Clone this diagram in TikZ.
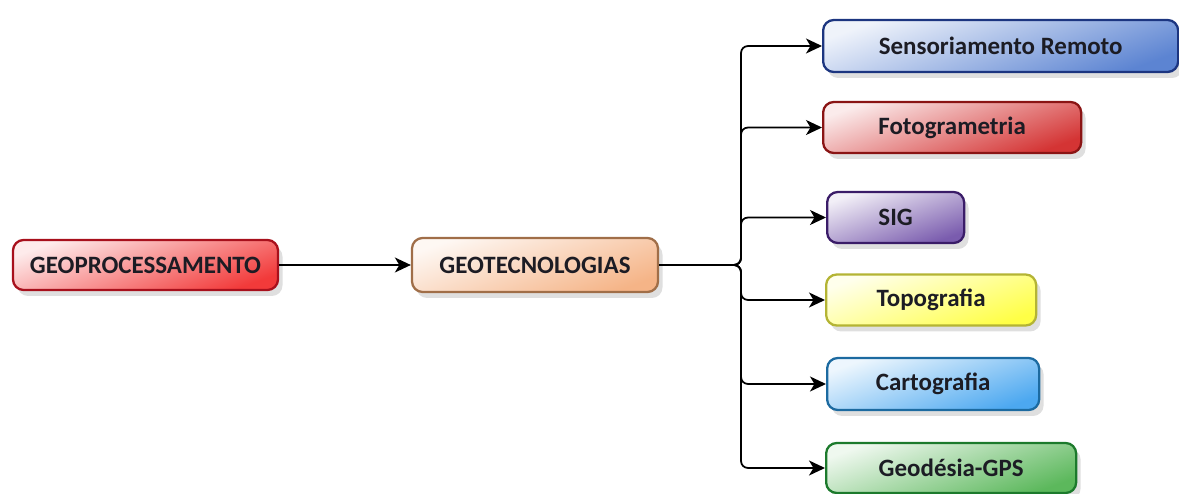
\documentclass[tikz,border=0pt]{standalone}
\usepackage{fontspec}
\setmainfont{Carlito}
\usetikzlibrary{arrows.meta,shadows}

\definecolor{geoline}{HTML}{A8101C}
\definecolor{geofill}{HTML}{F23A3A}
\definecolor{tecline}{HTML}{A06E48}
\definecolor{tecfill}{HTML}{F5B487}
\definecolor{srline}{HTML}{1C3580}
\definecolor{srfill}{HTML}{5C84D2}
\definecolor{fotoline}{HTML}{8A1414}
\definecolor{fotofill}{HTML}{D43434}
\definecolor{sigline}{HTML}{3A1C68}
\definecolor{sigfill}{HTML}{7A5CAE}
\definecolor{topoline}{HTML}{B4B434}
\definecolor{topofill}{HTML}{FFFF46}
\definecolor{cartoline}{HTML}{1C6AA0}
\definecolor{cartofill}{HTML}{4CA8F0}
\definecolor{gpsline}{HTML}{1C7A2C}
\definecolor{gpsfill}{HTML}{5CB85C}
\definecolor{txt}{HTML}{1C1C24}

\tikzset{
  box/.style 2 args={draw=#1, line width=1.3pt, rounded corners=6pt,
    top color=#2!10, bottom color=#2, shading angle=20,
    drop shadow={opacity=.25, shadow xshift=.9mm, shadow yshift=-1.2mm},
    text=txt, font=\bfseries\fontsize{14.2}{16}\selectfont, inner sep=0pt},
  link/.style={draw=black, line width=1pt, rounded corners=4pt,
    -{Stealth[length=3.2mm,width=3mm,inset=.9mm]}}
}

\begin{document}
\begin{tikzpicture}
        \useasboundingbox (0,0) rectangle (23.58,-9.88);

         % main chain
        \node[box={geoline}{geofill}, minimum width=5.3cm, minimum height=1cm] (geo) at (2.91,-5.3) {GEOPROCESSAMENTO};
        \node[box={tecline}{tecfill}, minimum width=4.92cm, minimum height=1.08cm] (tec) at (10.7,-5.3) {GEOTECNOLOGIAS};

         % branches
        \node[box={srline}{srfill}, anchor=west, minimum width=7.1cm, minimum height=1.04cm] (sr) at (16.44,-0.92) {Sensoriamento Remoto};
        \node[box={fotoline}{fotofill}, anchor=west, minimum width=5.16cm, minimum height=1.02cm] (foto) at (16.44,-2.55) {Fotogrametria};
        \node[box={sigline}{sigfill}, anchor=west, minimum width=2.74cm, minimum height=1.02cm] (sig) at (16.52,-4.35) {SIG};
        \node[box={topoline}{topofill}, anchor=west, minimum width=4.2cm, minimum height=1.02cm] (topo) at (16.5,-6.0) {Topografia};
        \node[box={cartoline}{cartofill}, anchor=west, minimum width=4.24cm, minimum height=1.04cm] (carto) at (16.52,-7.68) {Cartografia};
        \node[box={gpsline}{gpsfill}, anchor=west, minimum width=5.0cm, minimum height=1cm] (gps) at (16.5,-9.36) {Geodésia-GPS};

         % connectors
        \draw[link] (geo.east) -- (tec.west);
        \coordinate (fork) at (14.82,-5.3);
        \foreach \n in {sr,foto,sig,topo,carto,gps}
          \draw[link] (tec.east) -- (fork) |- (\n.west);
\end{tikzpicture}
\end{document}
